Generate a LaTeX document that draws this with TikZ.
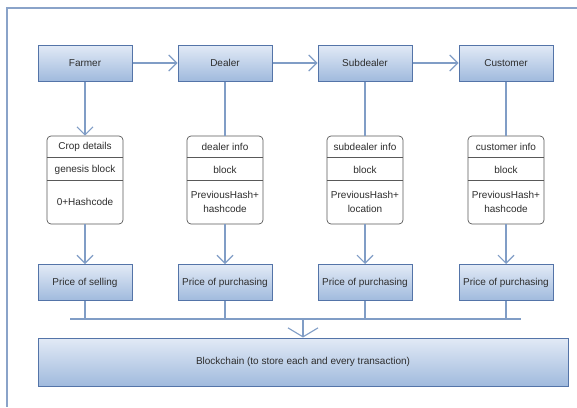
\documentclass[tikz,border=0pt]{standalone}
\usepackage{fontspec}
\setmainfont{Liberation Sans}
\usetikzlibrary{arrows.meta}

\definecolor{boxline}{RGB}{84,116,168}
\definecolor{boxtop}{RGB}{226,234,246}
\definecolor{boxbottom}{RGB}{160,186,221}
\definecolor{wirecol}{RGB}{128,157,198}
\definecolor{framecol}{RGB}{138,163,201}
\definecolor{txt}{RGB}{45,45,45}

\tikzset{
  party/.style={draw=boxline, line width=1pt, top color=boxtop, bottom color=boxbottom,
    minimum width=94pt, minimum height=36pt, inner sep=0pt, text=txt,
    font=\fontsize{10}{12}\selectfont},
  record/.style={draw=black!65, line width=0.7pt, rounded corners=4pt, fill=white,
    minimum width=76pt, minimum height=88pt, inner sep=0pt},
  field/.style={text=txt, align=center, inner sep=0pt, font=\fontsize{10}{14}\selectfont},
  link/.style={draw=wirecol, line width=1.1pt},
  tip/.style={-{Straight Barb[length=8pt,width=16pt]}},
}

\begin{document}
\begin{tikzpicture}[x=1pt,y=-1pt]
\useasboundingbox (0,0) rectangle (577,407);

% outer frame (only left and top edges show)
\draw[framecol, line width=1.3pt] (577,8) -- (7,8) -- (7,407);

% participants
\node[party] (farmer) at (85,63) {Farmer};
\node[party] (dealer) at (225,63) {Dealer};
\node[party] (subdealer) at (365,63) {Subdealer};
\node[party] (customer) at (506,63) {Customer};

\draw[link,tip] (farmer) -- (dealer);
\draw[link,tip] (dealer) -- (subdealer);
\draw[link,tip] (subdealer) -- (customer);

% block records
\node[record] (crop) at (85,180) {};
\draw[black!65, line width=0.7pt] ([yshift=-22pt]crop.north west) -- ([yshift=-22pt]crop.north east);
\draw[black!65, line width=0.7pt] ([yshift=-45pt]crop.north west) -- ([yshift=-45pt]crop.north east);
\node[field] (cropa) at (85,147) {Crop details};
\node[field] (cropb) at (85,169.5) {genesis block};
\node[field] (cropc) at (85,202) {0+Hashcode};

\node[record] (dealerinfo) at (225,180) {};
\draw[black!65, line width=0.7pt] ([yshift=-22pt]dealerinfo.north west) -- ([yshift=-22pt]dealerinfo.north east);
\draw[black!65, line width=0.7pt] ([yshift=-45pt]dealerinfo.north west) -- ([yshift=-45pt]dealerinfo.north east);
\node[field] (dealera) at (225,147) {dealer info};
\node[field] (dealerb) at (225,169.5) {block};
\node[field] (dealerc) at (225,202) {PreviousHash+\\hashcode};

\node[record] (subinfo) at (365,180) {};
\draw[black!65, line width=0.7pt] ([yshift=-22pt]subinfo.north west) -- ([yshift=-22pt]subinfo.north east);
\draw[black!65, line width=0.7pt] ([yshift=-45pt]subinfo.north west) -- ([yshift=-45pt]subinfo.north east);
\node[field] (suba) at (365,147) {subdealer info};
\node[field] (subb) at (365,169.5) {block};
\node[field] (subc) at (365,202) {PreviousHash+\\location};

\node[record] (custinfo) at (506,180) {};
\draw[black!65, line width=0.7pt] ([yshift=-22pt]custinfo.north west) -- ([yshift=-22pt]custinfo.north east);
\draw[black!65, line width=0.7pt] ([yshift=-45pt]custinfo.north west) -- ([yshift=-45pt]custinfo.north east);
\node[field] (custa) at (506,147) {customer info};
\node[field] (custb) at (506,169.5) {block};
\node[field] (custc) at (506,202) {PreviousHash+\\hashcode};

\draw[link,tip] (farmer) -- (crop);
\draw[link] (dealer) -- (dealerinfo);
\draw[link] (subdealer) -- (subinfo);
\draw[link] (customer) -- (custinfo);

% prices
\node[party] (sell) at (85,282.5) {Price of selling};
\node[party] (buya) at (225,282.5) {Price of purchasing};
\node[party] (buyb) at (365,282.5) {Price of purchasing};
\node[party] (buyc) at (506,282.5) {Price of purchasing};

\draw[link,tip] (crop) -- (sell);
\draw[link,tip] (dealerinfo) -- (buya);
\draw[link,tip] (subinfo) -- (buyb);
\draw[link,tip] (custinfo) -- (buyc);

% bus to the chain
\coordinate (busleft) at (70,319);
\coordinate (busright) at (521,319);
\coordinate (busmid) at (303,319);
\draw[link] (busleft) -- (busright);
\draw[link] (sell) -- (sell |- busmid);
\draw[link] (buya) -- (buya |- busmid);
\draw[link] (buyb) -- (buyb |- busmid);
\draw[link] (buyc) -- (buyc |- busmid);

\node[party, minimum width=530pt, minimum height=48pt] (chain) at (303,362)
  {Blockchain (to store each and every transaction)};
\draw[link,-{Straight Barb[length=9pt,width=30pt]}] (busmid) -- (chain);

\end{tikzpicture}
\end{document}
